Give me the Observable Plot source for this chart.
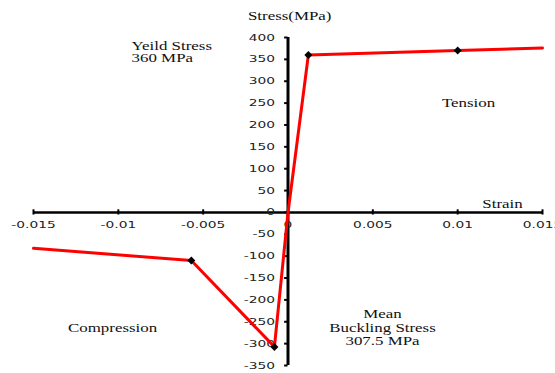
<!DOCTYPE html>
<html>
<head>
<meta charset="utf-8">
<script src="https://cdn.jsdelivr.net/npm/d3@7"></script>
<script src="https://cdn.jsdelivr.net/npm/@observablehq/plot@0.6"></script>
<style>
  html, body { margin: 0; padding: 0; background: #fff; overflow: hidden; }
</style>
</head>
<body>
<div id="chart"></div>
<script>
// Stress–strain curve (strain, stress in MPa)
const strain = [-0.015, -0.0057, -0.0008, 0, 0.0012, 0.01, 0.015];
const stress = [-82, -110, -307.5, 0, 360, 370, 376];
const marked = [false, true, true, false, true, true, false];

const xTicks = [-0.015, -0.01, -0.005, 0, 0.005, 0.01, 0.015];
const xTickLabels = ["-0.015", "-0.01", "-0.005", "0", "0.005", "0.01", "0.015"];
const yTicks = [-350, -300, -250, -200, -150, -100, -50, 0, 50, 100, 150, 200, 250, 300, 350, 400];

const annotations = [
  {x: 0.0001, y: 441, text: "Stress(MPa)", anchor: "middle", lh: 1},
  {x: 0.01264, y: 11, text: "Strain", anchor: "middle", lh: 1},
  {x: -0.00922, y: 343, text: "Yeild Stress\n360 MPa", anchor: "start", lh: 0.95},
  {x: 0.01064, y: 240, text: "Tension", anchor: "middle", lh: 1},
  {x: -0.01034, y: -274, text: "Compression", anchor: "middle", lh: 1},
  {x: 0.00557, y: -304, text: "Mean\nBuckling Stress\n307.5 MPa", anchor: "middle", lh: 1.04}
];

const pts = strain.map((s, i) => ({strain: s, stress: stress[i], marked: marked[i]}));

const SANS = "DejaVu Sans";
const SERIF = "Liberation Serif";

const chart = Plot.plot({
  width: 555,
  height: 373,
  marginLeft: 33,
  marginRight: 13,
  marginTop: 37,
  marginBottom: 8,
  x: {domain: [-0.015, 0.015], axis: null},
  y: {domain: [-350, 400], axis: null},
  marks: [
    // axes through the origin
    Plot.ruleY([0], {x1: -0.015, x2: 0.015, stroke: "black", strokeWidth: 2.5}),
    Plot.ruleX([0], {y1: -350, y2: 400, stroke: "black", strokeWidth: 3}),
    // tick marks
    Plot.ruleX(xTicks, {x: d => d, y1: -6, y2: 6, stroke: "black", strokeWidth: 2}),
    Plot.ruleY(yTicks, {y: d => d, x1: -0.0002, x2: 0, stroke: "black", strokeWidth: 2}),
    // tick labels
    Plot.text(xTicks, {x: d => d, y: 0, dy: 13, text: (d, i) => xTickLabels[i], fontFamily: SANS, fontSize: 9.5, fill: "#222"}),
    Plot.text(yTicks, {x: 0, y: d => d, dx: -13, text: d => String(d), textAnchor: "end", fontFamily: SANS, fontSize: 9.5, fill: "#222"}),
    // curve
    Plot.line(pts, {x: "strain", y: "stress", stroke: "#ff0000", strokeWidth: 3, strokeLinejoin: "round"}),
    Plot.dot(pts.filter(d => d.marked), {x: "strain", y: "stress", symbol: "diamond2", r: 3.6, fill: "black", stroke: "none"}),
    // annotations
    ...annotations.map(a => Plot.text([a], {
      x: "x", y: "y", text: "text", textAnchor: a.anchor, lineAnchor: "bottom",
      lineHeight: a.lh, fontFamily: SERIF, fontSize: 13, fill: "#111"
    }))
  ]
});

// the reference's lettering is horizontally stretched
chart.querySelectorAll("text").forEach(t => {
  const g = t.closest("[font-family]");
  const fam = g ? g.getAttribute("font-family") : "";
  const s = fam === SANS ? 1.45 : 1.3;
  const x = +t.getAttribute("x") || 0, y = +t.getAttribute("y") || 0;
  const tr = t.getAttribute("transform") || "";
  t.setAttribute("transform", `${tr} translate(${x},${y}) scale(${s},1) translate(${-x},${-y})`);
});

document.getElementById("chart").appendChild(chart);
</script>
</body>
</html>
